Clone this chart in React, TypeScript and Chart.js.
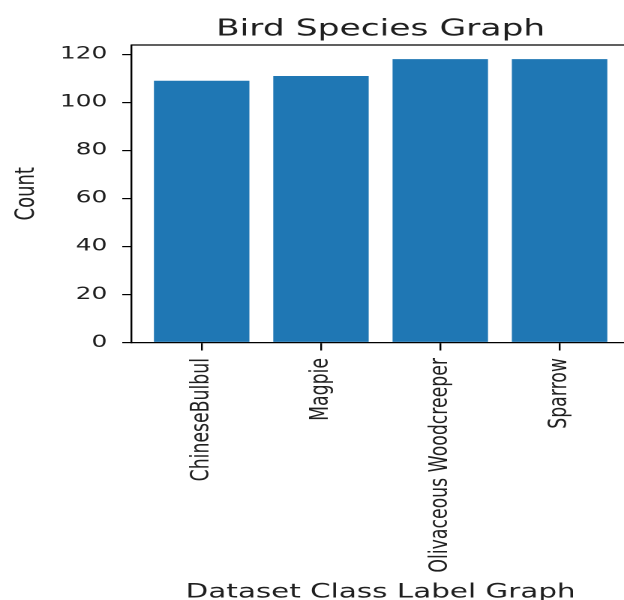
import React, { useEffect, useRef } from "react";
import { Chart, registerables } from "chart.js";

Chart.register(...registerables);

// ---- data ----
const categories: string[] = ["ChineseBulbul", "Magpie", "Olivaceous Woodcreeper", "Sparrow"];
const counts: number[] = [109, 111, 118, 118];
const yTicks: number[] = [0, 20, 40, 60, 80, 100, 120];

const chartTitle = "Bird Species Graph";
const xAxisTitle = "Dataset Class Label Graph";
const yAxisTitle = "Count";

// ---- presentation ----
const STRETCH = 1.5; // the reference image is stretched horizontally
const W = 424;
const H = 600;
const FONT = "DejaVu Sans";
const TEXT = "#1f1f1f";
const BAR = "#1f77b4";

// top spine (the right spine lies outside the visible picture in the reference)
const framePlugin = {
  id: "frame",
  afterDraw(chart: any) {
    const { ctx, chartArea } = chart;
    ctx.save();
    ctx.strokeStyle = "#000";
    ctx.lineWidth = 1.2;
    ctx.beginPath();
    ctx.moveTo(chartArea.left, chartArea.top);
    ctx.lineTo(chart.width, chartArea.top);
    ctx.stroke();
    ctx.restore();
  },
};

export default function App() {
  const ref = useRef<HTMLCanvasElement>(null);

  useEffect(() => {
    const canvas = ref.current;
    if (!canvas) return;
    const n = categories.length;
    const margin = 0.05 * (n - 1 + 0.8);
    const xMin = -0.4 - margin;
    const xMax = n - 1 + 0.4 + margin;
    const yMax = Math.max(...counts) * 1.05;

    const chart = new Chart(canvas, {
      type: "bar",
      data: {
        datasets: [
          {
            data: counts.map((c, i) => ({ x: i, y: c })),
            backgroundColor: BAR,
            borderWidth: 0,
            categoryPercentage: 1,
            barPercentage: 0.8,
          },
        ],
      },
      options: {
        responsive: false,
        animation: false,
        devicePixelRatio: 2,
        layout: { autoPadding: false, padding: { left: 0, right: 4, top: 0, bottom: 0 } },
        plugins: {
          legend: { display: false },
          tooltip: { enabled: false },
          title: {
            display: true,
            text: chartTitle,
            fullSize: false,
            color: TEXT,
            font: { family: FONT, size: 23, weight: "normal", lineHeight: 1.2 },
            padding: { top: 15.6, bottom: 1.8 },
          },
        },
        scales: {
          x: {
            type: "linear",
            min: xMin,
            max: xMax,
            offset: false,
            afterBuildTicks: (s: any) => {
              s.ticks = categories.map((_, i) => ({ value: i }));
            },
            afterFit: (s: any) => {
              s.height = 257.5;
            },
            grid: {
              display: true,
              offset: false,
              drawOnChartArea: false,
              drawTicks: true,
              tickLength: 8,
              color: "#000",
              lineWidth: 1.2,
            },
            border: { display: true, color: "#000", width: 1.2 },
            ticks: {
              autoSkip: false,
              minRotation: 90,
              maxRotation: 90,
              padding: 7.5,
              color: TEXT,
              font: { family: FONT, size: 17.3 },
              callback: (v: any) => categories[Math.round(Number(v))] ?? "",
            },
            title: {
              display: true,
              text: xAxisTitle,
              color: TEXT,
              font: { family: FONT, size: 19.6, lineHeight: 0.8 },
              padding: { top: 0, bottom: 0 },
            },
          },
          y: {
            type: "linear",
            min: 0,
            max: yMax,
            afterBuildTicks: (s: any) => {
              s.ticks = yTicks.map((v) => ({ value: v }));
            },
            afterFit: (s: any) => {
              s.width = 87.5;
            },
            grid: {
              display: true,
              drawOnChartArea: false,
              drawTicks: true,
              tickLength: 6,
              color: "#000",
              lineWidth: 1.2,
            },
            border: { display: true, color: "#000", width: 1.2 },
            ticks: {
              padding: 10,
              color: TEXT,
              font: { family: FONT, size: 16.5 },
              callback: (v: any) => String(v),
            },
            title: {
              display: true,
              text: yAxisTitle,
              color: TEXT,
              font: { family: FONT, size: 18, lineHeight: 1.2 },
              padding: { top: 7, bottom: 0 },
            },
          },
        },
      },
      plugins: [framePlugin],
    } as any);

    return () => chart.destroy();
  }, []);

  return (
    <div
      style={{
        position: "fixed",
        left: 0,
        top: 0,
        width: 624,
        height: 600,
        overflow: "hidden",
        background: "#fff",
      }}
    >
      <div
        style={{
          width: W,
          height: H,
          transform: `scaleX(${STRETCH})`,
          transformOrigin: "0 0",
        }}
      >
        <canvas ref={ref} width={W} height={H} />
      </div>
    </div>
  );
}
